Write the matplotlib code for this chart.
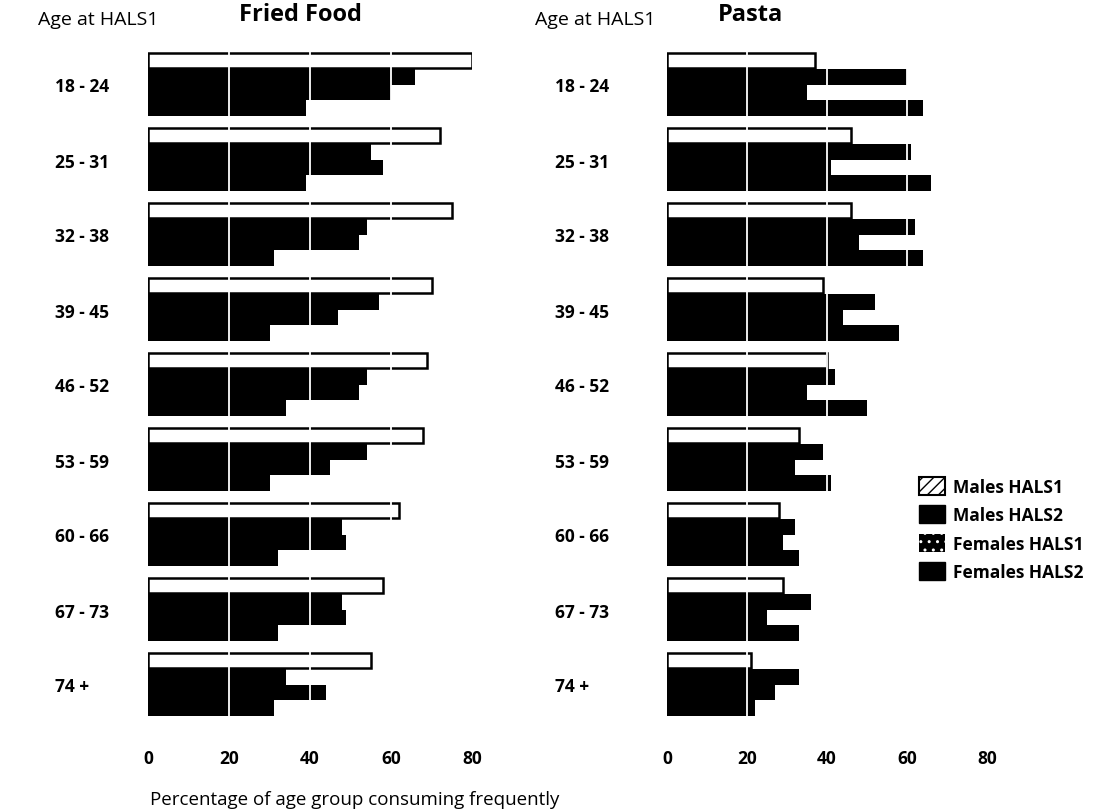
import numpy as np
import matplotlib
matplotlib.use("Agg")
import matplotlib.pyplot as plt
from matplotlib.patches import Patch

plt.rcParams['font.family'] = ['Open Sans', 'DejaVu Sans']

ages = ['18 - 24', '25 - 31', '32 - 38', '39 - 45', '46 - 52',
        '53 - 59', '60 - 66', '67 - 73', '74 +']
series = ['Males HALS1', 'Males HALS2', 'Females HALS1', 'Females HALS2']

# percentages
fried_m1 = [80, 72, 75, 70, 69, 68, 62, 58, 55]
fried_m2 = [66, 55, 54, 57, 54, 54, 48, 48, 34]
fried_f1 = [60, 58, 52, 47, 52, 45, 49, 49, 44]
fried_f2 = [39, 39, 31, 30, 34, 30, 32, 32, 31]

pasta_m1 = [37, 46, 46, 39, 40, 33, 28, 29, 21]
pasta_m2 = [60, 61, 62, 52, 42, 39, 32, 36, 33]
pasta_f1 = [35, 41, 48, 44, 35, 32, 29, 25, 27]
pasta_f2 = [64, 66, 64, 58, 50, 41, 33, 33, 22]

W, H = 1113, 812
fig = plt.figure(figsize=(W / 100, H / 100), dpi=100)


def px_axes(x0, x1, y0, y1):
    return fig.add_axes([x0 / W, 1 - y1 / H, (x1 - x0) / W, (y1 - y0) / H])


def draw_panel(ax, vals, label_pad):
    y = np.arange(len(ages))
    h = 0.21
    offs = [-1.5 * h, -0.5 * h, 0.5 * h, 1.5 * h]
    for k, v in enumerate(vals):
        if k == 0:
            ax.barh(y + offs[k], v, height=h * 0.95, color='white',
                    edgecolor='black', linewidth=1.8, zorder=2)
        else:
            ax.barh(y + offs[k], v, height=h, color='black',
                    edgecolor='none', zorder=2)
    for g in [20, 40, 60]:
        ax.axvline(g, color='white', linewidth=1.3, zorder=3)
    ax.set_xlim(0, 80)
    ax.set_ylim(8.6, -0.6)
    ax.set_xticks([0, 20, 40, 60, 80])
    ax.set_yticks(y)
    ax.set_yticklabels(ages, ha='left')
    ax.tick_params(axis='y', length=0, pad=label_pad, labelsize=12.5)
    ax.tick_params(axis='x', length=0, pad=14, labelsize=12.5)
    for t in ax.get_xticklabels() + ax.get_yticklabels():
        t.set_fontweight('bold')
    for s in ax.spines.values():
        s.set_visible(False)


ax1 = px_axes(148, 472, 40.5, 730.5)
draw_panel(ax1, [fried_m1, fried_m2, fried_f1, fried_f2], 67)

ax2 = px_axes(667, 987, 40.5, 730.5)
draw_panel(ax2, [pasta_m1, pasta_m2, pasta_f1, pasta_f2], 80.5)

fig.text(300 / W, 1 - 15 / H, 'Fried Food', fontsize=17, fontweight='bold',
         va='center', ha='center')
fig.text(750 / W, 1 - 15 / H, 'Pasta', fontsize=17, fontweight='bold',
         va='center', ha='center')
fig.text(38 / W, 1 - 20 / H, 'Age at HALS1', fontsize=14, fontweight='medium',
         va='center', ha='left')
fig.text(535 / W, 1 - 20 / H, 'Age at HALS1', fontsize=14, fontweight='medium',
         va='center', ha='left')
fig.text(355 / W, 1 - 800 / H, 'Percentage of age group consuming frequently',
         fontsize=13.5, fontweight='medium', va='center', ha='center')

handles = [
    Patch(facecolor='white', edgecolor='black', hatch='///', linewidth=1.5),
    Patch(facecolor='black', edgecolor='black'),
    Patch(facecolor='black', edgecolor='white', hatch='..', linewidth=0),
    Patch(facecolor='black', edgecolor='black'),
]
leg = fig.legend(handles, series, loc='center left',
                 bbox_to_anchor=(903 / W, 1 - 530 / H), frameon=False,
                 handlelength=1.5, handleheight=1.2, labelspacing=0.55,
                 handletextpad=0.5, prop={'size': 12.5, 'weight': 'bold'})

plt.savefig('out.png', dpi=100)
